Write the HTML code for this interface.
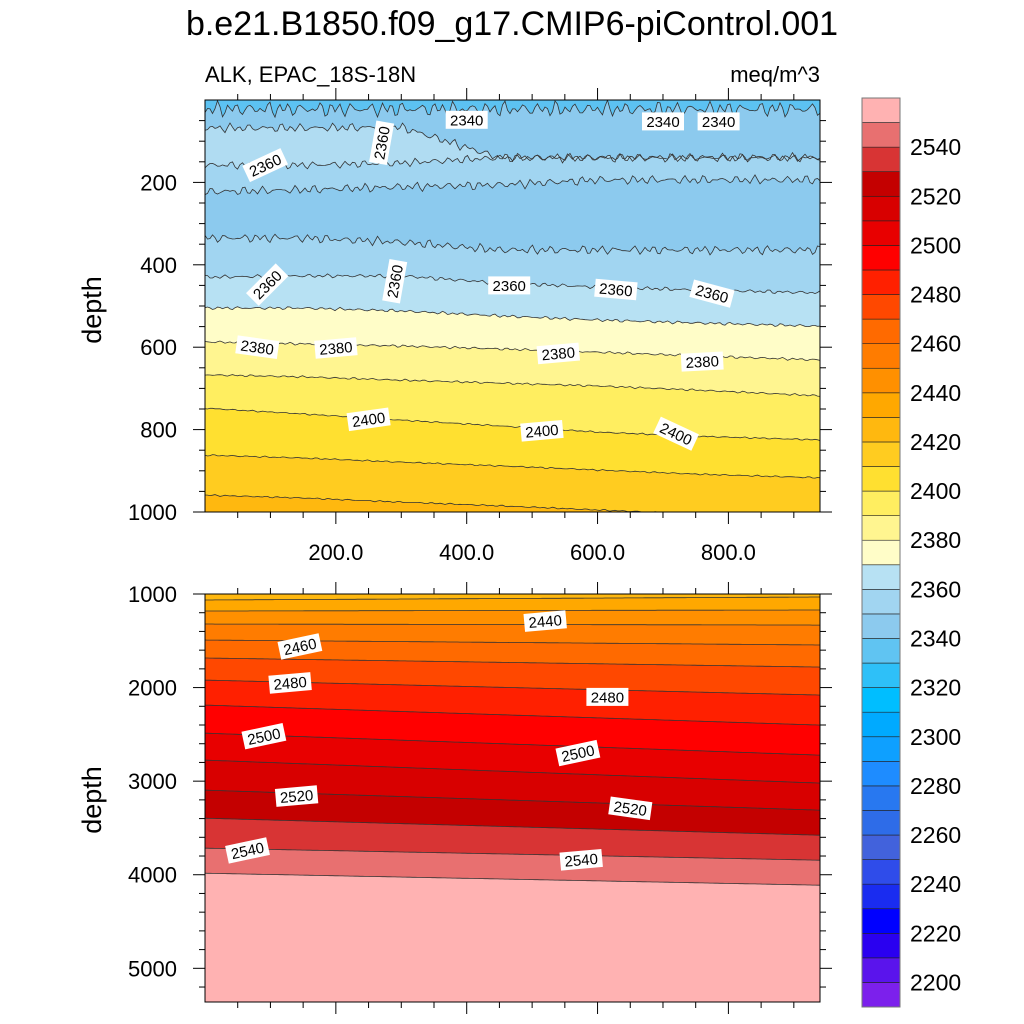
<!DOCTYPE html>
<html><head><meta charset="utf-8">
<style>
body{margin:0;background:#fff;}
svg{display:block;font-family:"Liberation Sans",sans-serif;}
</style></head>
<body>
<svg id="chart" width="1024" height="1024" viewBox="0 0 1024 1024" xmlns="http://www.w3.org/2000/svg">
<text x="512" y="35" font-size="34" text-anchor="middle">b.e21.B1850.f09_g17.CMIP6-piControl.001</text>
<text x="205" y="82" font-size="22">ALK, EPAC_18S-18N</text>
<text x="820" y="82" font-size="22" text-anchor="end">meq/m^3</text>
<defs>
<clipPath id="clipTop"><rect x="205" y="100" width="615" height="412"/></clipPath>
<clipPath id="clipBot"><rect x="205" y="594" width="615" height="408"/></clipPath>
</defs>
<g id="top" clip-path="url(#clipTop)"></g>
<g id="bot" clip-path="url(#clipBot)"></g>
<g id="axes"></g>
<g id="labels"></g>
<g id="cbar"></g>
</svg>
<script>
// ---- data ----
const topX = [0, 150, 300, 450, 600, 750, 940];
const topLines = [
 [22,22,22,22,22,22,22],
 [68,68,66,140,140,140,140],
 [158,158,153,140,140,140,140],
 [223,218,211,206,194,194,194],
 [335,335,345,364,364,364,364],
 [430,427,427,444,454,461,468],
 [505,505,512,524,534,541,549],
 [587,592,597,604,612,621,631],
 [667,672,680,687,694,704,718],
 [748,762,777,791,806,816,825],
 [862,869,879,888,898,908,917],
 [959,966,976,985,995,1005,1014]
];
const topBandColors = ['#5CC2F2','#8CCAEE','#B0DCF2','#A1D5F1','#8CCAEE','#A1D5F1','#B7E1F3','#FFFDC8','#FFF590','#FFEE60','#FFE030','#FFCC20','#FFB80F'];
const botX = [0, 470, 940];
const botLines = [
 [1064,1048,1032],[1182,1176,1171],[1321,1326,1332],[1492,1518,1545],[1684,1732,1781],
 [1920,2000,2080],[2187,2294,2401],[2487,2604,2722],[2775,2898,3021],[3096,3203,3310],
 [3396,3487,3578],[3716,3780,3845],[3984,4048,4112]
];
const botBandColors = ['#FFB80F','#FFA800','#FF9000','#FF7C00','#FF6A00','#FF4800','#FF2000','#FF0000','#E80000','#D80000','#C40000','#D83434','#E87070','#FFB2B2'];
const topLabels = [[400,'2340',48,0],[700,'2340',52,0],[785,'2340',52,0],[270,'2360',104,-80],[92,'2360',158,-25],[95,'2360',448,-45],[290,'2360',440,-80],[465,'2360',450,0],[628,'2360',460,5],[775,'2360',470,15],[80,'2380',600,8],[200,'2380',602,-5],[540,'2380',615,-5],[760,'2380',635,-3],[250,'2400',775,-8],[515,'2400',803,-5],[720,'2400',810,25]];
const botLabels = [[520,'2440',1290,-5],[145,'2460',1560,-12],[130,'2480',1950,-5],[615,'2480',2100,0],[90,'2500',2520,-12],[570,'2500',2700,-12],[140,'2520',3160,-5],[650,'2520',3290,8],[65,'2540',3740,-12],[575,'2540',3840,-5]];
const cbLevels = [2200,2210,2220,2230,2240,2250,2260,2270,2280,2290,2300,2310,2320,2330,2340,2350,2360,2370,2380,2390,2400,2410,2420,2430,2440,2450,2460,2470,2480,2490,2500,2510,2520,2530,2540,2550];
const cbColors = ['#7C20EC','#5A14EC','#2A00F0','#0000FF','#1A2CF0','#2F4CEA','#4262DC','#2E6CE8','#2878F0','#1E8CFF','#0EA0FF','#00AAFF','#00BEFF','#2EC0F8','#60C4F2','#8CCAEE','#A1D5F1','#B7E1F3','#FFFDC8','#FFF590','#FFEE60','#FFE030','#FFCC20','#FFB80F','#FFA800','#FF9000','#FF7C00','#FF6A00','#FF4800','#FF2000','#FF0000','#E80000','#D80000','#C40000','#D83434','#E87070','#FFB2B2'];
const xTicks = [200,400,600,800];
const topYTicks = [200,400,600,800,1000];
const botYTicks = [1000,2000,3000,4000,5000];

// ---- scales ----
const NS='http://www.w3.org/2000/svg';
const X0=205, X1=820, XMAX=940;
const xs = v => X0 + v/XMAX*(X1-X0);
const ysTop = d => 100 + d/1000*412;
const ysBot = d => 594 + (d-1000)/(5360-1000)*408;
function mk(tag, attrs, parent){const e=document.createElementNS(NS,tag);for(const k in attrs)e.setAttribute(k,attrs[k]);parent.appendChild(e);return e;}
function interp(xArr, vals, x){for(let i=0;i<xArr.length-1;i++){if(x<=xArr[i+1]){const t=(x-xArr[i])/(xArr[i+1]-xArr[i]);return vals[i]+t*(vals[i+1]-vals[i]);}}return vals[vals.length-1];}
function noise(x,k){return Math.sin(x*1.9+k)*0.6+Math.sin(x*4.3+k*2.1)*0.4+Math.sin(x*0.37+k*0.7)*0.5;}

function drawPanel(g, xArr, lines, colors, ys, yTop, yBot, amps, pre){
  const bg = mk('rect',{x:X0,y:yTop,width:X1-X0,height:yBot-yTop,fill:colors[0]},g);
  
  
  const paths=[];
  lines.forEach((ln,i)=>{
    const pts=[];
    for(let px=X0;px<=X1+0.1;px+=2.5){
      const v=(px-X0)/(X1-X0)*XMAX;
      const a=amps[i]||0;
      pts.push([px, ys(interp(xArr,ln,v)) + a*noise(px,i)]);
    }
    paths.push(pts);
    const d='M'+pts.map(p=>p[0].toFixed(1)+','+p[1].toFixed(1)).join('L')+'L'+X1+','+(yBot+5)+'L'+X0+','+(yBot+5)+'Z';
    const p=mk('path',{d:d,fill:colors[i+1]},g);
    
    
  });
  paths.forEach((pts,i)=>{
    const l=mk('path',{d:'M'+pts.map(p=>p[0].toFixed(1)+','+p[1].toFixed(1)).join('L'),fill:'none',stroke:'#333',"stroke-width":'0.8'},g);
    
    
  });
}
drawPanel(document.getElementById('top'), topX, topLines, topBandColors, ysTop, 100, 512, [6,3.5,3,3.5,3.5,1.5,1.2,1,0.8,0.6,0.6,0.6], 'top');
drawPanel(document.getElementById('bot'), botX, botLines, botBandColors, ysBot, 594, 1002, [], 'bottom');

// ---- axes ----
const ax=document.getElementById('axes');
function frame(y0,y1,name){const r=mk('rect',{x:X0,y:y0,width:X1-X0,height:y1-y0,fill:'none',stroke:'#000',"stroke-width":'1'},ax);}
frame(100,512,'top-plot-frame');frame(594,1002,'bottom-plot-frame');
function tick(x1,y1,x2,y2){const t=mk('line',{x1:x1,y1:y1,x2:x2,y2:y2,stroke:'#000',"stroke-width":'1'},ax);}
for(let v=50;v<XMAX;v+=50){
  const major = xTicks.includes(v); const L = major?12:6; const x=xs(v);
  tick(x,100,x,100-L); tick(x,512,x,512+L); tick(x,594,x,594-L); tick(x,1002,x,1002+L);
}
xTicks.forEach(v=>{const t=mk('text',{x:xs(v),y:560,"font-size":'22',"text-anchor":'middle'},ax);t.textContent=v.toFixed(1);});
for(let d=50;d<=1000;d+=50){const major=topYTicks.includes(d);const L=major?12:6;const y=ysTop(d);tick(X0,y,X0-L,y);tick(X1,y,X1+L,y);}
topYTicks.forEach(d=>{const t=mk('text',{x:177,y:ysTop(d)+8,"font-size":'22',"text-anchor":'end'},ax);t.textContent=d;});
for(let d=1000;d<=5300;d+=200){const major=botYTicks.includes(d);const L=major?12:6;const y=ysBot(d);tick(X0,y,X0-L,y);tick(X1,y,X1+L,y);}
botYTicks.forEach(d=>{const t=mk('text',{x:177,y:ysBot(d)+8,"font-size":'22',"text-anchor":'end'},ax);t.textContent=d;});
[[310,'top-y-axis-title'],[800,'bottom-y-axis-title']].forEach(([cy,n])=>{const t=mk('text',{x:0,y:0,"font-size":'27',"text-anchor":'middle',transform:'translate(101,'+cy+') rotate(-90)'},ax);t.textContent='depth';});

// ---- contour labels ----
const lg=document.getElementById('labels');
function clabel(x,txt,d,rot,ys){
  const g=mk('g',{transform:'translate('+xs(x).toFixed(1)+','+ys(d).toFixed(1)+') rotate('+rot+')'},lg);
  
  
  mk('rect',{x:-21,y:-9,width:42,height:18,fill:'#fff'},g);
  const t=mk('text',{x:0,y:5.5,"font-size":'15',"text-anchor":'middle'},g);t.textContent=txt;
}
topLabels.forEach(l=>clabel(l[0],l[1],l[2],l[3],ysTop));
botLabels.forEach(l=>clabel(l[0],l[1],l[2],l[3],ysBot));

// ---- colorbar ----
const cb=document.getElementById('cbar');
const CB0=98, CB1=1007, n=cbColors.length, h=(CB1-CB0)/n;
cbColors.forEach((c,i)=>{
  const y=CB1-(i+1)*h;
  const r=mk('rect',{x:862,y:y,width:38,height:h,fill:c,stroke:'#222',"stroke-width":'0.6'},cb);
  
  
});
mk('rect',{x:862,y:CB0,width:38,height:CB1-CB0,fill:'none',stroke:'#777',"stroke-width":'1'},cb);
cbLevels.forEach((v,i)=>{
  if(v%20!==0) return;
  const y=CB1-(i+1)*h;
  const t=mk('text',{x:910,y:y+8,"font-size":'23'},cb);t.textContent=v;
  
  
});
</script>
</body></html>
